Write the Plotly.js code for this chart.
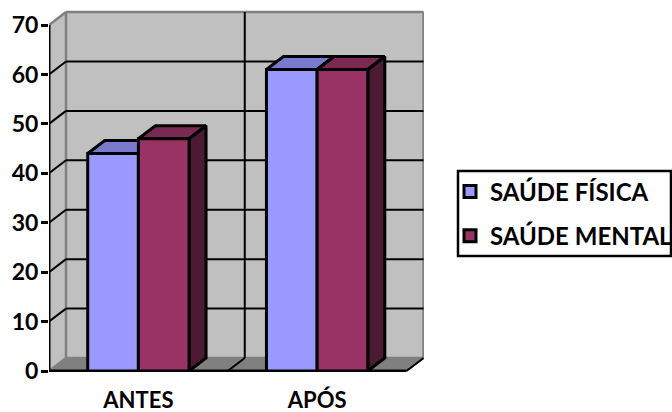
<!DOCTYPE html>
<html>
<head>
<meta charset="utf-8">
<script src="https://cdn.plot.ly/plotly-3.0.1.min.js"></script>
<style>html,body{margin:0;padding:0;background:#fff;overflow:hidden}</style>
</head>
<body>
<div id="chart" style="width:672px;height:412px"></div>
<script>
// Values per moment, one array per series
const categories = ['ANTES', 'APÓS'];
const saudeFisica = [44, 61];
const saudeMental = [47, 61];
const valueTicks = [0, 10, 20, 30, 40, 50, 60, 70];
const seriesNames = ['SAÚDE FÍSICA', 'SAÚDE MENTAL'];

// Oblique projection of the depth axis, in axis units
const depthX = 17 / 178.75;
const depthY = 13 / 4.943;
const barWidth = 0.2835;
const yMax = valueTicks[valueTicks.length - 1];
const nCat = categories.length;
const catCenters = categories.map((_, i) => i + 0.5);

const noHover = {hoverinfo: 'skip', showlegend: false};

function poly(xs, ys, fill, line, lw, z) {
  return Object.assign({
    type: 'scatter', mode: lw ? 'lines' : 'none', x: xs, y: ys, fill: 'toself', fillcolor: fill,
    line: {color: line || fill, width: lw || 0}, cliponaxis: false, zorder: z || 0
  }, noHover);
}
function segs(list, color, width, z) {
  const xs = [], ys = [];
  list.forEach(s => { xs.push(s[0], s[2], null); ys.push(s[1], s[3], null); });
  return Object.assign({
    type: 'scatter', mode: 'lines', x: xs, y: ys,
    line: {color: color, width: width}, cliponaxis: false, zorder: z || 0
  }, noHover);
}

const traces = [];

// Walls and floor
traces.push(poly([0, depthX, depthX, 0, 0], [0, depthY, yMax + depthY, yMax, 0], '#c0c0c0'));
traces.push(poly([depthX, nCat + depthX, nCat + depthX, depthX, depthX],
                 [depthY, depthY, yMax + depthY, yMax + depthY, depthY], '#c0c0c0'));
traces.push(poly([0, depthX, nCat + depthX, nCat, 0], [0, depthY, depthY, 0, 0], '#808080'));

// Grey wall edges
traces.push(segs([
  [0, yMax, depthX, yMax + depthY],
  [depthX, yMax + depthY, nCat + depthX, yMax + depthY],
  [nCat + depthX, yMax + depthY, nCat + depthX, depthY],
  [depthX, yMax + depthY, depthX, depthY],
  [depthX, depthY, nCat + depthX, depthY],
  [0, 0, depthX, depthY]
], '#808080', 2.5));

// Black gridlines across the side wall, the back wall and the floor
const grid = [];
valueTicks.filter(v => v > 0 && v < yMax).forEach(v => {
  grid.push([0, v, depthX, v + depthY], [depthX, v + depthY, nCat + depthX, v + depthY]);
});
for (let c = 1; c <= nCat; c++) {
  grid.push([c, 0, c + depthX, depthY]);
  if (c < nCat) grid.push([c + depthX, depthY, c + depthX, yMax + depthY]);
}
traces.push(segs(grid, '#000', 2));

// Axis lines
traces.push(segs([[0, 0, 0, yMax], [0, 0, nCat, 0]], '#000', 3));
traces.push(segs([[0, 0, 0, -1.2], [1, 0, 1, -1.2]], '#000', 2.5));

// One 3D column: top and side faces, then a bar trace as the front face
function column(values, name, offset, colors, zBase) {
  values.forEach((v, i) => {
    const x0 = catCenters[i] + offset, x1 = x0 + barWidth;
    traces.push(poly([x0, x0 + depthX, x1 + depthX, x1, x0], [v, v + depthY, v + depthY, v, v],
                     colors.top, '#000', 3, zBase));
    traces.push(poly([x1, x1 + depthX, x1 + depthX, x1, x1], [0, depthY, v + depthY, v, 0],
                     colors.side, '#000', 3, zBase));
  });
  traces.push({
    type: 'bar', name: name, legendgroup: name, x: catCenters, y: values, width: barWidth, offset: offset,
    marker: {color: colors.front, line: {color: '#000', width: 3}},
    cliponaxis: false, zorder: zBase + 1, hoverinfo: 'skip'
  });
}
column(saudeFisica, seriesNames[0], -barWidth, {front: '#9999ff', top: '#7a7acc', side: '#4d4d80'}, 1);
column(saudeMental, seriesNames[1], 0, {front: '#993366', top: '#7a2952', side: '#4d1a33'}, 3);

const layout = {
  width: 672, height: 412,
  margin: {l: 49, r: 248, t: 10, b: 40, pad: 0, autoexpand: false},
  paper_bgcolor: '#fff', plot_bgcolor: 'rgba(0,0,0,0)',
  barmode: 'overlay',
  font: {family: 'Lato, sans-serif', color: '#000', weight: 700},
  xaxis: {
    range: [0, 375 / 178.75], showgrid: false, zeroline: false, showline: false,
    tickmode: 'array', tickvals: catCenters, ticktext: categories, ticks: '',
    ticklabelstandoff: 13, tickfont: {size: 22, family: 'Lato, sans-serif', weight: 700}
  },
  yaxis: {
    range: [-0.2, 73.04], showgrid: false, zeroline: false, showline: false,
    tickmode: 'array', tickvals: valueTicks, ticks: 'outside', ticklen: 7, tickwidth: 2.5,
    tickcolor: '#000', ticklabelstandoff: -2,
    tickfont: {size: 23, family: 'Lato, sans-serif', weight: 700}
  },
  // Legend frame is a paper-anchored rectangle so the entries can sit close to its left side
  shapes: [{
    type: 'rect', xref: 'paper', yref: 'paper', layer: 'above',
    x0: (458 - 49) / 375, x1: (671 - 49) / 375,
    y0: (372 - 256) / 362, y1: (372 - 171) / 362,
    line: {color: '#000', width: 2.5}, fillcolor: 'rgba(0,0,0,0)'
  }],
  legend: {
    x: (450 - 49) / 375, y: (372 - 214) / 362, xanchor: 'left', yanchor: 'middle',
    borderwidth: 0, bgcolor: 'rgba(0,0,0,0)',
    traceorder: 'grouped', tracegroupgap: 10, itemclick: false, itemdoubleclick: false,
    font: {size: 24, family: 'Lato, sans-serif', weight: 700, color: '#000'}
  },
  showlegend: true
};

Plotly.newPlot('chart', traces, layout, {displayModeBar: false, responsive: false});
</script>
</body>
</html>
